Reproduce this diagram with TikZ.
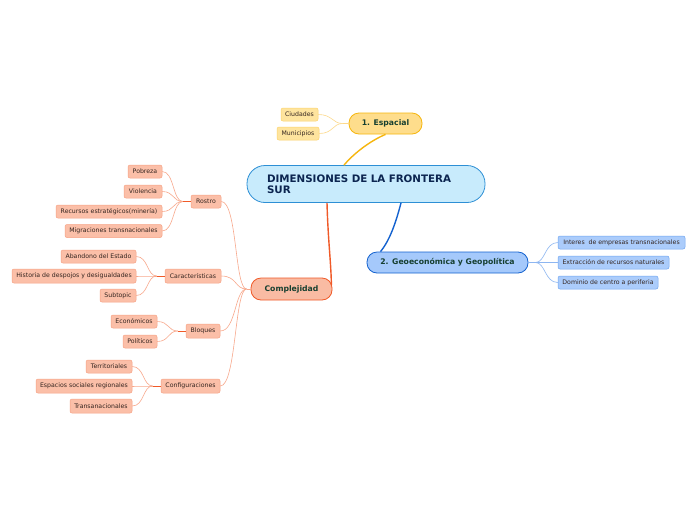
\documentclass[tikz,border=0pt]{standalone}
\usepackage{fontspec}
\setmainfont{DejaVu Sans}
\definecolor{cenfill}{HTML}{C8EBFC}
\definecolor{cendraw}{HTML}{2D8FD5}
\definecolor{centext}{HTML}{0C2550}
\definecolor{topictext}{HTML}{163F30}
\definecolor{yfill}{HTML}{FEDD8C}
\definecolor{ydraw}{HTML}{F6B60E}
\definecolor{ycfill}{HTML}{FEE49E}
\definecolor{ycdraw}{HTML}{FCD36C}
\definecolor{ylink}{HTML}{FDD98A}
\definecolor{bfill}{HTML}{A5C9FB}
\definecolor{bdraw}{HTML}{1462CF}
\definecolor{bcfill}{HTML}{ABCCFB}
\definecolor{bcdraw}{HTML}{6FA5F0}
\definecolor{blink}{HTML}{8DB6F1}
\definecolor{rfill}{HTML}{F9BBA3}
\definecolor{rdraw}{HTML}{F05A28}
\definecolor{rcfill}{HTML}{FBBFA8}
\definecolor{rcdraw}{HTML}{F6A284}
\definecolor{rlink}{HTML}{F8A88C}
\definecolor{childtext}{HTML}{33241F}
\tikzset{
  x=1pt, y=-1pt,
  box/.style={rectangle, inner sep=0pt, align=center},
  centralbox/.style={box, fill=cenfill, draw=cendraw, line width=0.8pt, rounded corners=18pt,
     font=\fontsize{10.3}{11.5}\selectfont\bfseries, text=centext},
  topicbox/.style={box, line width=0.8pt, rounded corners=10pt,
     font=\fontsize{7.7}{8}\selectfont\bfseries, text=topictext},
  childbox/.style={box, line width=0.5pt, rounded corners=2pt, minimum height=13pt,
     font=\fontsize{6.2}{7}\selectfont, text=childtext},
  ytopic/.style={topicbox, fill=yfill, draw=ydraw},
  btopic/.style={topicbox, fill=bfill, draw=bdraw},
  rtopic/.style={topicbox, fill=rfill, draw=rdraw},
  ychild/.style={childbox, fill=ycfill, draw=ycdraw},
  bchild/.style={childbox, fill=bcfill, draw=bcdraw},
  rchild/.style={childbox, fill=rcfill, draw=rcdraw},
  mainlink/.style={line width=1.4pt},
  sublink/.style={line width=0.6pt},
}
\begin{document}
\begin{tikzpicture}
\useasboundingbox (0,0) rectangle (696,520);
\fill[white] (0,0) rectangle (696,520);

% central
\node[centralbox, minimum width=238pt, minimum height=37pt, text width=198pt, align=left] (central) at (366,184) {DIMENSIONES DE LA FRONTERA\\SUR};

% Espacial
\node[ytopic, minimum width=73pt, minimum height=21pt] (esp) at (385.5,123.5) {1. Espacial};
\node[ychild, minimum width=37pt] (ciu) at (299.5,114.5) {Ciudades};
\node[ychild, minimum width=42pt] (mun) at (298,133.5) {Municipios};

% Geo
\node[btopic, minimum width=161pt, minimum height=21pt] (geo) at (447.5,262.5) {2. Geoeconómica y Geopolítica};
\node[bchild, minimum width=127pt] (int) at (621.5,242.5) {Interes\ \ de empresas transnacionales};
\node[bchild, minimum width=111pt] (ext) at (613.5,262.5) {Extracción de recursos naturales};
\node[bchild, minimum width=100pt] (dom) at (608,282.5) {Dominio de centro a periferia};

% Complejidad
\node[rtopic, minimum width=81pt, minimum height=22pt] (com) at (291.5,289) {Complejidad};
\node[rchild, minimum width=30pt] (ros) at (206,201.5) {Rostro};
\node[rchild, minimum width=34pt] (pob) at (145,171.5) {Pobreza};
\node[rchild, minimum width=38pt] (vio) at (143,191.5) {Violencia};
\node[rchild, minimum width=106pt] (rec) at (109,211.5) {Recursos estratégicos(minería)};
\node[rchild, minimum width=97pt] (mig) at (113.5,231) {Migraciones transnacionales};
\node[rchild, minimum width=56pt, minimum height=14pt] (car) at (193,276) {Características};
\node[rchild, minimum width=75pt] (aba) at (98.5,256.5) {Abandono del Estado};
\node[rchild, minimum width=124pt, minimum height=14pt] (his) at (74,276) {Historia de despojos y desigualdades};
\node[rchild, minimum width=36pt] (sub) at (118,295.5) {Subtopic};
\node[rchild, minimum width=34pt, minimum height=14pt] (blo) at (203,331) {Bloques};
\node[rchild, minimum width=46pt] (eco) at (134,321.5) {Económicos};
\node[rchild, minimum width=34pt] (pol) at (140,341.5) {Políticos};
\node[rchild, minimum width=59pt, minimum height=14pt] (con) at (190.5,386) {Configuraciones};
\node[rchild, minimum width=46pt] (ter) at (109,366.5) {Territoriales};
\node[rchild, minimum width=96pt, minimum height=14pt] (espa) at (84,386) {Espacios sociales regionales};
\node[rchild, minimum width=62pt, minimum height=14pt] (tra) at (101,406) {Transanacionales};

% main links
\draw[mainlink, draw=ydraw] ([xshift=-22pt]central.north) .. controls (355,152) and (372,140) .. (esp.south);
\draw[mainlink, draw=bdraw] ([xshift=35pt]central.south) .. controls (396,222) and (390,240) .. ([xshift=-67pt]geo.north);
\draw[mainlink, draw=rdraw] ([xshift=-39pt]central.south) .. controls (328,240) and (331,262) .. ([xshift=-1pt,yshift=4pt]com.east);

% Espacial children
\coordinate (eh) at ([xshift=-6pt]esp.west);
\draw[sublink, draw=ylink] (esp.west) -- (eh);
\foreach \n in {ciu,mun} {
  \draw[sublink, draw=ylink] (eh) .. controls ([xshift=-10pt]eh) and ([xshift=14pt]\n.east) .. (\n.east);
}

% Geo children
\coordinate (gh) at ([xshift=7pt]geo.east);
\draw[sublink, draw=blink] (geo.east) -- (gh);
\foreach \n in {int,ext,dom} {
  \draw[sublink, draw=blink] (gh) .. controls ([xshift=10pt]gh) and ([xshift=-13pt]\n.west) .. (\n.west);
}

% Complejidad subtopics
\coordinate (ch) at ([xshift=-4pt]com.west);
\draw[sublink, draw=rlink] (com.west) -- (ch);
\foreach \n in {ros,car,blo,con} {
  \draw[sublink, draw=rlink] (ch) .. controls ([xshift=-12pt]ch) and ([xshift=16pt]\n.east) .. (\n.east);
}

% Rostro children
\coordinate (rh) at ([xshift=-8pt]ros.west);
\draw[sublink, draw=rdraw] (ros.west) -- (rh);
\foreach \n in {pob,vio,rec,mig} {
  \draw[sublink, draw=rlink] (rh) .. controls ([xshift=-10pt]rh) and ([xshift=12pt]\n.east) .. (\n.east);
}
% Caracteristicas children
\coordinate (kh) at ([xshift=-8pt]car.west);
\draw[sublink, draw=rdraw] (car.west) -- (kh);
\foreach \n in {aba,his,sub} {
  \draw[sublink, draw=rlink] (kh) .. controls ([xshift=-10pt]kh) and ([xshift=12pt]\n.east) .. (\n.east);
}
% Bloques children
\coordinate (bh) at ([xshift=-8pt]blo.west);
\draw[sublink, draw=rdraw] (blo.west) -- (bh);
\foreach \n in {eco,pol} {
  \draw[sublink, draw=rlink] (bh) .. controls ([xshift=-10pt]bh) and ([xshift=12pt]\n.east) .. (\n.east);
}
% Configuraciones children
\coordinate (fh) at ([xshift=-8pt]con.west);
\draw[sublink, draw=rdraw] (con.west) -- (fh);
\foreach \n in {ter,espa,tra} {
  \draw[sublink, draw=rlink] (fh) .. controls ([xshift=-10pt]fh) and ([xshift=12pt]\n.east) .. (\n.east);
}
\end{tikzpicture}
\end{document}
